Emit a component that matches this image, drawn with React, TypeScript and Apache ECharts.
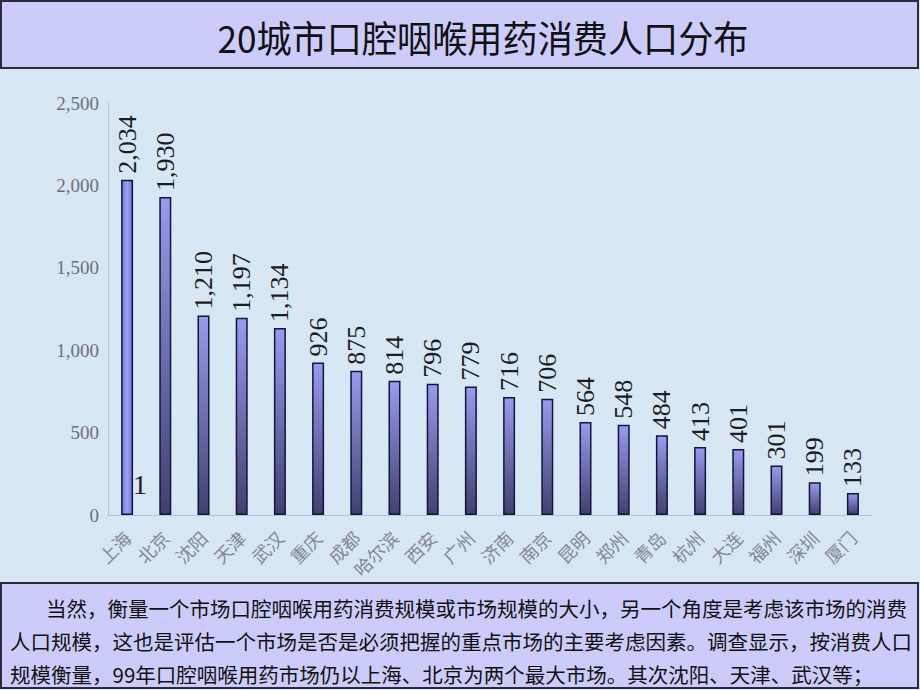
import React, { useEffect, useRef } from "react";
import * as echarts from "echarts";

const cities = ["上海", "北京", "沈阳", "天津", "武汉", "重庆", "成都", "哈尔滨", "西安", "广州", "济南", "南京", "昆明", "郑州", "青岛", "杭州", "大连", "福州", "深圳", "厦门"];
const population = [2034, 1930, 1210, 1197, 1134, 926, 875, 814, 796, 779, 716, 706, 564, 548, 484, 413, 401, 301, 199, 133];
const yTicks = { min: 0, max: 2500, interval: 500 };
const titleText = "20城市口腔咽喉用药消费人口分布";
const noteLines = [
  "当然，衡量一个市场口腔咽喉用药消费规模或市场规模的大小，另一个角度是考虑该市场的消费",
  "人口规模，这也是评估一个市场是否是必须把握的重点市场的主要考虑因素。调查显示，按消费人口",
  "规模衡量，99年口腔咽喉用药市场仍以上海、北京为两个最大市场。其次沈阳、天津、武汉等；",
];

const fmt = (v: number) => v.toLocaleString("en-US");

export default function App() {
  const ref = useRef<HTMLDivElement>(null);
  useEffect(() => {
    if (!ref.current) return;
    const chart = echarts.init(ref.current, null, { renderer: "svg" });
    const cjk = '"Noto Sans CJK SC", sans-serif';
    const serif = '"Liberation Serif", "DejaVu Serif", serif';
    const barGrad = new echarts.graphic.LinearGradient(0, 0, 0, 1, [
      { offset: 0, color: "#9a9af0" },
      { offset: 1, color: "#40406f" },
    ]);
    const firstGrad = new echarts.graphic.LinearGradient(0, 0, 1, 0, [
      { offset: 0, color: "#7878d8" },
      { offset: 0.5, color: "#a0a0f8" },
      { offset: 1, color: "#7070d0" },
    ]);
    chart.setOption({
      animation: false,
      backgroundColor: "#d7e7f3",
      grid: { left: 108, right: 48, top: 103, bottom: 175, containLabel: false },
      xAxis: {
        type: "category",
        data: cities,
        axisLine: { show: true, lineStyle: { color: "#b8c4d4", width: 1 } },
        axisTick: { show: false },
        axisLabel: {
          rotate: 45,
          interval: 0,
          fontFamily: cjk,
          fontSize: 18,
          color: "#858898",
          margin: 19,
        },
      },
      yAxis: {
        type: "value",
        min: yTicks.min,
        max: yTicks.max,
        interval: yTicks.interval,
        axisLine: { show: true, lineStyle: { color: "#b8c4d4", width: 1 } },
        axisTick: { show: false },
        splitLine: { show: false },
        axisLabel: {
          formatter: (v: number) => fmt(v),
          fontFamily: serif,
          fontSize: 19,
          color: "#707078",
          margin: 9,
        },
      },
      series: [
        {
          type: "bar",
          barWidth: 12,
          data: population.map((v, i) => ({
            value: v,
            itemStyle: { color: i === 0 ? firstGrad : barGrad },
          })),
          itemStyle: { borderColor: "#14143c", borderWidth: 1.5 },
          label: {
            show: true,
            position: "top",
            rotate: 90,
            align: "left",
            verticalAlign: "middle",
            distance: 6,
            formatter: (p: any) => fmt(p.value),
            fontFamily: serif,
            fontSize: 26,
            color: "#1c1c24",
          },
        },
      ],
      graphic: [
        {
          type: "rect",
          shape: { x: 1, y: 1, width: 917, height: 67 },
          style: { fill: "#ccccfa", stroke: "#2a2a3a", lineWidth: 2 },
        },
        {
          type: "text",
          x: 460,
          y: 37,
          scaleX: 0.95,
          originX: 460,
          style: {
            text: titleText,
            fontFamily: cjk,
            fontSize: 37,
            fill: "#111",
            align: "center",
            verticalAlign: "middle",
          },
        },
        {
          type: "text",
          x: 133,
          y: 484,
          style: {
            text: "1",
            fontFamily: serif,
            fontSize: 28,
            fill: "#222",
            verticalAlign: "middle",
          },
        },
        {
          type: "rect",
          shape: { x: 1, y: 583, width: 917, height: 105 },
          style: { fill: "#ccccfa", stroke: "#2a2a3a", lineWidth: 2 },
        },
        ...noteLines.map((t, i) => ({
          type: "text",
          x: i === 0 ? 46 : 10,
          y: 608 + i * 33,
          style: {
            text: t,
            fontFamily: cjk,
            fontSize: 20.5,
            fill: "#111",
            verticalAlign: "middle",
          },
        })),
      ],
    });
    return () => chart.dispose();
  }, []);
  return (
    <div
      ref={ref}
      style={{ position: "fixed", left: 0, top: 0, width: 920, height: 690 }}
    />
  );
}
